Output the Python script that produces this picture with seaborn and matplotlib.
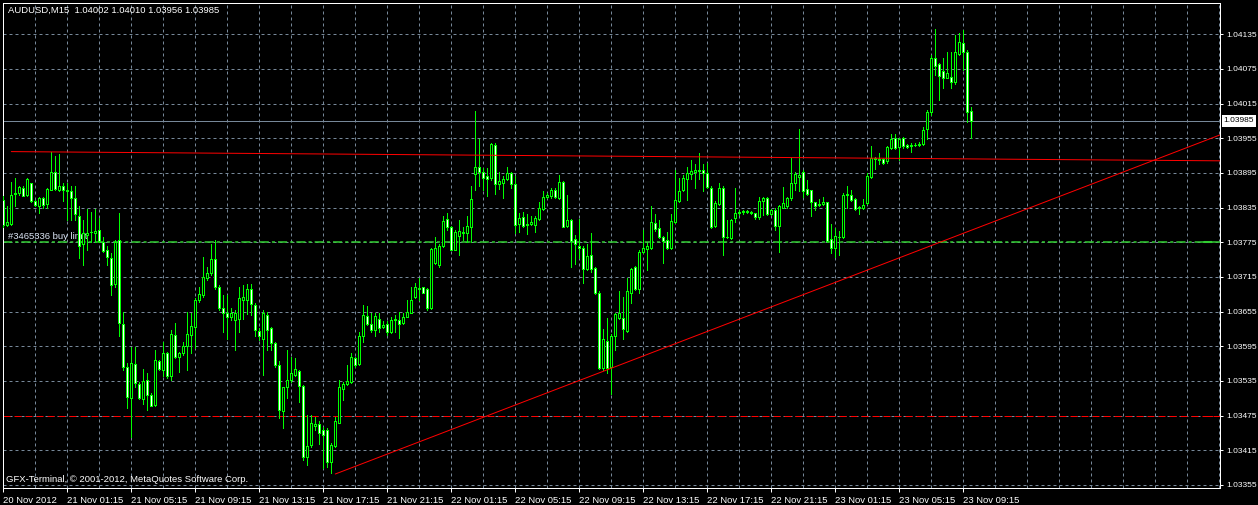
import numpy as np
import pandas as pd
import seaborn as sns
import matplotlib
matplotlib.use("Agg")
import matplotlib.pyplot as plt

# AUDUSD M15 bars, 20 Nov 2012 21:15 .. 23 Nov 2012 09:45
opens = [1.03849, 1.03805, 1.03807, 1.03859, 1.03860, 1.03869, 1.03857, 1.03877, 1.03847, 1.03837,
         1.03851, 1.03841, 1.03866, 1.03896, 1.03865, 1.03873, 1.03865, 1.03864, 1.03851, 1.03820,
         1.03772, 1.03788, 1.03792, 1.03791, 1.03797, 1.03776, 1.03762, 1.03747, 1.03702, 1.03779,
         1.03634, 1.03560, 1.03505, 1.03565, 1.03530, 1.03503, 1.03537, 1.03511, 1.03494, 1.03570,
         1.03554, 1.03583, 1.03544, 1.03615, 1.03576, 1.03583, 1.03596, 1.03615, 1.03628, 1.03675,
         1.03684, 1.03713, 1.03722, 1.03746, 1.03698, 1.03661, 1.03653, 1.03646, 1.03641, 1.03642,
         1.03675, 1.03675, 1.03694, 1.03667, 1.03622, 1.03607, 1.03649, 1.03626, 1.03601, 1.03562,
         1.03483, 1.03524, 1.03537, 1.03546, 1.03552, 1.03526, 1.03404, 1.03424, 1.03457, 1.03460,
         1.03451, 1.03450, 1.03395, 1.03423, 1.03463, 1.03522, 1.03529, 1.03534, 1.03574, 1.03564,
         1.03612, 1.03648, 1.03634, 1.03623, 1.03642, 1.03628, 1.03633, 1.03620, 1.03640, 1.03641,
         1.03635, 1.03646, 1.03653, 1.03681, 1.03695, 1.03697, 1.03694, 1.03661, 1.03739, 1.03736,
         1.03768, 1.03815, 1.03801, 1.03762, 1.03786, 1.03791, 1.03791, 1.03802, 1.03893, 1.03906,
         1.03897, 1.03889, 1.03886, 1.03943, 1.03876, 1.03878, 1.03885, 1.03895, 1.03876, 1.03806,
         1.03818, 1.03805, 1.03807, 1.03805, 1.03815, 1.03832, 1.03853, 1.03855, 1.03866, 1.03851,
         1.03879, 1.03803, 1.03813, 1.03780, 1.03769, 1.03765, 1.03728, 1.03753, 1.03730, 1.03687,
         1.03557, 1.03605, 1.03560, 1.03613, 1.03644, 1.03644, 1.03621, 1.03687, 1.03732, 1.03695,
         1.03758, 1.03763, 1.03765, 1.03808, 1.03799, 1.03784, 1.03779, 1.03765, 1.03810, 1.03846,
         1.03865, 1.03885, 1.03893, 1.03897, 1.03899, 1.03901, 1.03895, 1.03869, 1.03804, 1.03841,
         1.03869, 1.03785, 1.03782, 1.03817, 1.03826, 1.03827, 1.03829, 1.03828, 1.03825, 1.03818,
         1.03847, 1.03851, 1.03824, 1.03831, 1.03804, 1.03835, 1.03837, 1.03851, 1.03877, 1.03888,
         1.03896, 1.03867, 1.03865, 1.03844, 1.03841, 1.03841, 1.03844, 1.03780, 1.03766, 1.03784,
         1.03784, 1.03857, 1.03857, 1.03850, 1.03836, 1.03835, 1.03843, 1.03888, 1.03919, 1.03919,
         1.03919, 1.03915, 1.03938, 1.03955, 1.03940, 1.03955, 1.03944, 1.03942, 1.03943, 1.03944,
         1.03945, 1.03971, 1.04001, 1.04094, 1.04083, 1.04072, 1.04060, 1.04061, 1.04053, 1.04101,
         1.04120, 1.04105, 1.04002]
highs = [1.03855, 1.03837, 1.03879, 1.03886, 1.03872, 1.03872, 1.03886, 1.03878, 1.03849, 1.03853,
         1.03854, 1.03869, 1.03931, 1.03925, 1.03927, 1.03877, 1.03877, 1.03872, 1.03872, 1.03837,
         1.03814, 1.03833, 1.03828, 1.03833, 1.03817, 1.03785, 1.03768, 1.03756, 1.03779, 1.03826,
         1.03655, 1.03566, 1.03594, 1.03594, 1.03534, 1.03555, 1.03548, 1.03514, 1.03589, 1.03572,
         1.03603, 1.03586, 1.03624, 1.03635, 1.03586, 1.03603, 1.03655, 1.03652, 1.03678, 1.03698,
         1.03750, 1.03733, 1.03772, 1.03779, 1.03701, 1.03684, 1.03684, 1.03661, 1.03658, 1.03698,
         1.03701, 1.03702, 1.03702, 1.03670, 1.03626, 1.03658, 1.03655, 1.03629, 1.03603, 1.03569,
         1.03525, 1.03589, 1.03577, 1.03575, 1.03554, 1.03528, 1.03476, 1.03477, 1.03473, 1.03465,
         1.03456, 1.03453, 1.03427, 1.03473, 1.03537, 1.03534, 1.03563, 1.03583, 1.03577, 1.03619,
         1.03667, 1.03665, 1.03652, 1.03652, 1.03652, 1.03638, 1.03638, 1.03646, 1.03649, 1.03655,
         1.03652, 1.03676, 1.03698, 1.03704, 1.03714, 1.03698, 1.03696, 1.03765, 1.03785, 1.03772,
         1.03820, 1.03826, 1.03803, 1.03796, 1.03814, 1.03802, 1.03820, 1.03873, 1.04002, 1.03953,
         1.03903, 1.03903, 1.03947, 1.03947, 1.03897, 1.03889, 1.03906, 1.03897, 1.03889, 1.03826,
         1.03828, 1.03824, 1.03820, 1.03820, 1.03844, 1.03863, 1.03860, 1.03869, 1.03869, 1.03892,
         1.03881, 1.03857, 1.03815, 1.03788, 1.03815, 1.03768, 1.03772, 1.03791, 1.03733, 1.03690,
         1.03625, 1.03644, 1.03617, 1.03652, 1.03690, 1.03681, 1.03714, 1.03730, 1.03734, 1.03762,
         1.03796, 1.03773, 1.03837, 1.03824, 1.03814, 1.03786, 1.03792, 1.03824, 1.03900, 1.03886,
         1.03892, 1.03906, 1.03918, 1.03911, 1.03930, 1.03911, 1.03912, 1.03872, 1.03846, 1.03877,
         1.03872, 1.03814, 1.03815, 1.03869, 1.03831, 1.03831, 1.03831, 1.03830, 1.03826, 1.03854,
         1.03854, 1.03853, 1.03832, 1.03834, 1.03840, 1.03870, 1.03854, 1.03921, 1.03897, 1.03971,
         1.03900, 1.03883, 1.03866, 1.03845, 1.03850, 1.03854, 1.03845, 1.03807, 1.03799, 1.03795,
         1.03860, 1.03872, 1.03865, 1.03851, 1.03838, 1.03850, 1.03895, 1.03941, 1.03923, 1.03929,
         1.03921, 1.03941, 1.03962, 1.03962, 1.03955, 1.03958, 1.03946, 1.03947, 1.03947, 1.03949,
         1.03975, 1.04004, 1.04099, 1.04144, 1.04085, 1.04094, 1.04104, 1.04105, 1.04134, 1.04137,
         1.04143, 1.04107, 1.04010]
lows = [1.03802, 1.03804, 1.03805, 1.03837, 1.03857, 1.03855, 1.03856, 1.03845, 1.03837, 1.03826,
        1.03834, 1.03834, 1.03865, 1.03865, 1.03863, 1.03846, 1.03814, 1.03814, 1.03814, 1.03747,
        1.03735, 1.03762, 1.03775, 1.03775, 1.03775, 1.03759, 1.03736, 1.03684, 1.03698, 1.03612,
        1.03554, 1.03488, 1.03438, 1.03525, 1.03503, 1.03496, 1.03485, 1.03491, 1.03491, 1.03554,
        1.03543, 1.03540, 1.03537, 1.03574, 1.03551, 1.03580, 1.03554, 1.03583, 1.03592, 1.03672,
        1.03681, 1.03710, 1.03719, 1.03695, 1.03658, 1.03620, 1.03607, 1.03641, 1.03589, 1.03620,
        1.03643, 1.03651, 1.03649, 1.03612, 1.03606, 1.03546, 1.03589, 1.03589, 1.03560, 1.03471,
        1.03453, 1.03505, 1.03534, 1.03543, 1.03499, 1.03398, 1.03390, 1.03421, 1.03450, 1.03426,
        1.03384, 1.03387, 1.03376, 1.03421, 1.03462, 1.03502, 1.03528, 1.03532, 1.03560, 1.03562,
        1.03603, 1.03632, 1.03620, 1.03612, 1.03620, 1.03626, 1.03615, 1.03618, 1.03620, 1.03609,
        1.03634, 1.03645, 1.03652, 1.03679, 1.03675, 1.03687, 1.03657, 1.03659, 1.03738, 1.03733,
        1.03767, 1.03796, 1.03761, 1.03761, 1.03753, 1.03779, 1.03775, 1.03775, 1.03865, 1.03872,
        1.03866, 1.03855, 1.03883, 1.03858, 1.03867, 1.03852, 1.03883, 1.03869, 1.03791, 1.03792,
        1.03802, 1.03789, 1.03805, 1.03792, 1.03814, 1.03831, 1.03851, 1.03851, 1.03851, 1.03850,
        1.03801, 1.03802, 1.03733, 1.03737, 1.03747, 1.03705, 1.03727, 1.03724, 1.03686, 1.03555,
        1.03554, 1.03548, 1.03512, 1.03589, 1.03642, 1.03607, 1.03619, 1.03670, 1.03693, 1.03688,
        1.03756, 1.03727, 1.03763, 1.03795, 1.03782, 1.03739, 1.03763, 1.03763, 1.03808, 1.03844,
        1.03863, 1.03848, 1.03884, 1.03869, 1.03884, 1.03863, 1.03869, 1.03799, 1.03802, 1.03839,
        1.03753, 1.03782, 1.03780, 1.03811, 1.03822, 1.03824, 1.03825, 1.03824, 1.03816, 1.03816,
        1.03822, 1.03822, 1.03822, 1.03796, 1.03759, 1.03834, 1.03834, 1.03849, 1.03866, 1.03863,
        1.03854, 1.03857, 1.03821, 1.03831, 1.03837, 1.03839, 1.03776, 1.03756, 1.03750, 1.03753,
        1.03782, 1.03835, 1.03847, 1.03831, 1.03824, 1.03833, 1.03841, 1.03886, 1.03902, 1.03910,
        1.03911, 1.03913, 1.03936, 1.03936, 1.03918, 1.03939, 1.03938, 1.03932, 1.03941, 1.03942,
        1.03943, 1.03953, 1.03996, 1.04065, 1.04021, 1.04042, 1.04059, 1.04042, 1.04049, 1.04100,
        1.04073, 1.03984, 1.03956]
closes = [1.03805, 1.03811, 1.03857, 1.03861, 1.03870, 1.03856, 1.03885, 1.03846, 1.03840, 1.03851,
          1.03839, 1.03867, 1.03896, 1.03867, 1.03872, 1.03866, 1.03863, 1.03851, 1.03824, 1.03768,
          1.03791, 1.03791, 1.03793, 1.03795, 1.03778, 1.03760, 1.03749, 1.03701, 1.03775, 1.03635,
          1.03560, 1.03508, 1.03566, 1.03531, 1.03505, 1.03535, 1.03511, 1.03492, 1.03572, 1.03555,
          1.03583, 1.03543, 1.03617, 1.03576, 1.03583, 1.03595, 1.03617, 1.03631, 1.03675, 1.03686,
          1.03715, 1.03722, 1.03746, 1.03698, 1.03661, 1.03652, 1.03645, 1.03653, 1.03652, 1.03678,
          1.03680, 1.03694, 1.03668, 1.03623, 1.03612, 1.03653, 1.03624, 1.03601, 1.03562, 1.03485,
          1.03524, 1.03537, 1.03548, 1.03555, 1.03526, 1.03404, 1.03423, 1.03462, 1.03461, 1.03445,
          1.03442, 1.03394, 1.03424, 1.03465, 1.03524, 1.03529, 1.03535, 1.03576, 1.03563, 1.03613,
          1.03649, 1.03634, 1.03623, 1.03648, 1.03626, 1.03632, 1.03620, 1.03641, 1.03642, 1.03634,
          1.03646, 1.03654, 1.03676, 1.03697, 1.03696, 1.03688, 1.03661, 1.03763, 1.03765, 1.03769,
          1.03812, 1.03802, 1.03762, 1.03792, 1.03794, 1.03793, 1.03803, 1.03850, 1.03906, 1.03897,
          1.03886, 1.03885, 1.03945, 1.03876, 1.03881, 1.03885, 1.03895, 1.03876, 1.03805, 1.03817,
          1.03804, 1.03806, 1.03811, 1.03817, 1.03834, 1.03853, 1.03857, 1.03866, 1.03853, 1.03879,
          1.03802, 1.03813, 1.03778, 1.03772, 1.03765, 1.03728, 1.03751, 1.03728, 1.03688, 1.03557,
          1.03607, 1.03557, 1.03613, 1.03651, 1.03652, 1.03625, 1.03690, 1.03728, 1.03695, 1.03758,
          1.03765, 1.03769, 1.03810, 1.03798, 1.03784, 1.03778, 1.03765, 1.03812, 1.03849, 1.03863,
          1.03886, 1.03895, 1.03899, 1.03900, 1.03901, 1.03895, 1.03870, 1.03801, 1.03843, 1.03869,
          1.03784, 1.03784, 1.03814, 1.03825, 1.03828, 1.03829, 1.03828, 1.03825, 1.03818, 1.03847,
          1.03852, 1.03824, 1.03831, 1.03804, 1.03838, 1.03843, 1.03851, 1.03877, 1.03893, 1.03891,
          1.03863, 1.03858, 1.03844, 1.03837, 1.03839, 1.03844, 1.03778, 1.03766, 1.03786, 1.03785,
          1.03857, 1.03859, 1.03848, 1.03832, 1.03834, 1.03839, 1.03890, 1.03921, 1.03921, 1.03918,
          1.03913, 1.03940, 1.03954, 1.03938, 1.03954, 1.03941, 1.03940, 1.03944, 1.03944, 1.03945,
          1.03970, 1.04000, 1.04094, 1.04081, 1.04062, 1.04059, 1.04068, 1.04053, 1.04104, 1.04121,
          1.04105, 1.04001, 1.03985]

time_labels = ["20 Nov 2012", "21 Nov 01:15", "21 Nov 05:15", "21 Nov 09:15", "21 Nov 13:15",
               "21 Nov 17:15", "21 Nov 21:15", "22 Nov 01:15", "22 Nov 05:15", "22 Nov 09:15",
               "22 Nov 13:15", "22 Nov 17:15", "22 Nov 21:15", "23 Nov 01:15", "23 Nov 05:15",
               "23 Nov 09:15"]
price_ticks = [1.03355, 1.03415, 1.03475, 1.03535, 1.03595, 1.03655, 1.03715,
               1.03775, 1.03835, 1.03895, 1.03955, 1.04015, 1.04075, 1.04135]

bid = 1.03985
buy_limit = 1.03776
stop_level = 1.03475
trend_flat_bars = [2, 305]
trend_flat_prices = [1.03932, 1.03916]
trend_up_bars = [83, 305]
trend_up_prices = [1.03374, 1.03963]

df = pd.DataFrame({"open": opens, "high": highs, "low": lows, "close": closes})
df["bar"] = np.arange(len(df))
df["bull"] = df["close"] >= df["open"]

sns.set_style("dark", {"axes.facecolor": "black", "figure.facecolor": "black"})
plt.rcParams['font.family'] = ['Liberation Sans', 'DejaVu Sans']

LIME = "#00ff00"
GRID = "#778899"
PX = 0.72  # one pixel in points at dpi 100
FS = 6.8
FS_PRICE = 6.0

fig = plt.figure(figsize=(12.58, 5.05), dpi=100)
ax = fig.add_axes([2.7 / 1258, 17 / 505, (1220 - 2.7) / 1258, (488 - 2.7) / 505])
ax.set_facecolor("black")

# grid
ax.set_xticks(np.arange(0, 305, 8), minor=True)
ax.set_xticks(np.arange(0, len(time_labels) * 16, 16))
ax.set_xticklabels(time_labels)
ax.set_yticks(price_ticks)
ax.yaxis.set_major_formatter(matplotlib.ticker.FormatStrFormatter("%.5f"))
ax.set_axisbelow(True)
ax.grid(True, which="both", axis="x", color=GRID, lw=PX, linestyle=(0, (3, 3)))
ax.grid(True, which="major", axis="y", color=GRID, lw=PX, linestyle=(0, (3, 3)))

# order levels
ax.axhline(bid, color=GRID, lw=PX, zorder=1)
ax.axhline(buy_limit, color="#32cd32", lw=1.1, linestyle=(0, (6, 2, 2, 2)), zorder=1.5)
ax.axhline(stop_level, color="red", lw=PX, linestyle=(0, (7, 4)), zorder=1.5)
ax.axhline(buy_limit, xmin=0.987, xmax=0.9935, color="#32cd32", lw=1.5, zorder=1.6)
ax.axhline(stop_level, xmin=0.987, xmax=0.9935, color="red", lw=PX, zorder=1.6)
ax.text(1.2, buy_limit + 0.00009, "#3465336 buy limit", color="#dde6f6", fontsize=FS,
        va="center", ha="left", zorder=2)

# candles
ax.vlines(df["bar"], df["low"], df["high"], color=LIME, lw=PX, zorder=3, antialiased=False)
ax.bar(df["bar"], df["close"] - df["open"], bottom=df["open"], width=0.5,
       color=np.where(df["bull"], "black", "white"), edgecolor=LIME, lw=PX, zorder=4,
       antialiased=False)

# trendlines
sns.lineplot(x=trend_flat_bars, y=trend_flat_prices, color="red", lw=PX, ax=ax, zorder=5)
sns.lineplot(x=trend_up_bars, y=trend_up_prices, color="red", lw=PX, ax=ax, zorder=5)

ax.set_xlim(-0.15, 304.2)
ax.set_ylim(1.033498, 1.041897)
ax.set_xlabel("")
ax.set_ylabel("")

for s in ax.spines.values():
    s.set_visible(True)
    s.set_color("white")
    s.set_linewidth(PX)

ax.yaxis.tick_right()
ax.tick_params(axis="y", which="major", colors="white", length=2.5, width=PX,
               labelsize=FS_PRICE, pad=1.8, right=True, left=False, labelright=True, labelleft=False)
ax.tick_params(axis="x", which="major", colors="white", length=3, width=PX,
               labelsize=FS, pad=2.5, bottom=True)
ax.tick_params(axis="x", which="minor", length=0)
plt.setp(ax.get_xticklabels(), ha="left")

# current price box on the price scale
ax.annotate(f"{bid:.5f}", xy=(1, bid), xycoords=("axes fraction", "data"),
            xytext=(2.6, 0), textcoords="offset points", ha="left", va="center",
            fontsize=FS_PRICE, color="black", annotation_clip=False,
            bbox=dict(boxstyle="square,pad=0.25", fc="white", ec="none"))

fig.text(8 / 1258, 1 - 10.5 / 505, "AUDUSD,M15  1.04002 1.04010 1.03956 1.03985",
         color="white", fontsize=FS, va="center", ha="left")
fig.text(5.5 / 1258, 1 - 480 / 505, "GFX-Terminal, \u00a9 2001-2012, MetaQuotes Software Corp.",
         color="white", fontsize=FS, va="center", ha="left")

fig.savefig("out.png", dpi=100, facecolor="black")
